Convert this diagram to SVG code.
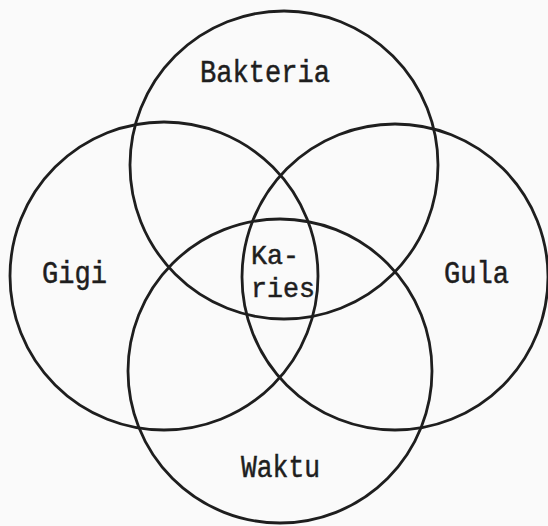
<svg xmlns="http://www.w3.org/2000/svg" width="548" height="526" viewBox="0 0 548 526">
<style>
.c{fill:none;stroke:#1e1e1e;stroke-width:2.8}
.t{font-family:"Liberation Mono","Courier New",monospace;font-size:31px;fill:#1e1e1e;stroke:#1e1e1e;stroke-width:0.5}
.k{font-size:28px}
</style>
<rect width="548" height="526" fill="#fafafa"/>
<g id="connectors"></g>
<g id="bakteria"><circle class="c" cx="284" cy="165" r="154"/><text class="t" x="200" y="82" textLength="130" lengthAdjust="spacingAndGlyphs">Bakteria</text></g>
<g id="gigi"><circle class="c" cx="164" cy="276" r="154"/><text class="t" x="42" y="283" textLength="65" lengthAdjust="spacingAndGlyphs">Gigi</text></g>
<g id="gula"><circle class="c" cx="395" cy="277" r="153"/><text class="t" x="444" y="283" textLength="65" lengthAdjust="spacingAndGlyphs">Gula</text></g>
<g id="waktu"><circle class="c" cx="280" cy="371" r="152"/><text class="t" x="241" y="477" textLength="79" lengthAdjust="spacingAndGlyphs">Waktu</text></g>
<g id="karies"><text class="t k" x="251" y="264" textLength="48" lengthAdjust="spacingAndGlyphs">Ka-</text><text class="t k" x="251" y="297" textLength="64" lengthAdjust="spacingAndGlyphs">ries</text></g>
</svg>
